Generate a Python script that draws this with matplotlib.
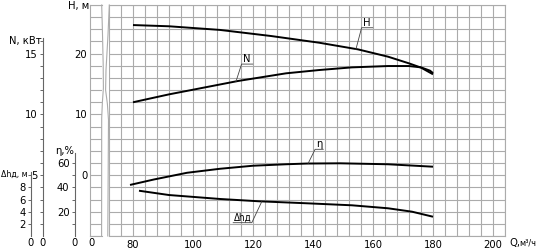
import matplotlib.pyplot as plt
from matplotlib.lines import Line2D
from matplotlib import font_manager

# Data
q_h = [80, 92, 109, 126, 142, 155, 165, 172, 176, 180]
head = [24.7, 24.5, 23.9, 22.9, 21.8, 20.7, 19.5, 18.4, 17.7, 16.6]

q_n = [80, 92, 115, 131, 142, 153, 165, 172, 176, 179, 180]
power = [11.0, 11.65, 12.75, 13.38, 13.65, 13.87, 13.98, 13.98, 13.87, 13.6, 13.4]

q_eta = [79, 87, 98, 109, 120, 131, 138, 149, 165, 180]
eta = [42.0, 46.5, 52.0, 55.3, 57.8, 59.0, 59.6, 59.8, 59.0, 57.0]

q_dh = [82, 92, 109, 122, 138, 153, 165, 173, 180]
dh = [7.45, 6.74, 6.09, 5.71, 5.38, 5.05, 4.56, 4.0, 3.17]

q_ticks = [80, 100, 120, 140, 160, 180, 200]

# pick a narrow font if one is installed
family = 'DejaVu Sans'
stretch = 'normal'
for name, strc in [('Liberation Sans Narrow', 'normal'), ('DejaVu Sans', 'condensed')]:
    try:
        path = font_manager.findfont(font_manager.FontProperties(family=name, stretch=strc),
                                     fallback_to_default=False)
        if 'Narrow' in path or 'Condensed' in path:
            family, stretch = name, strc
            break
    except Exception:
        pass

plt.rcParams['font.family'] = [family, 'DejaVu Sans']
plt.rcParams['font.stretch'] = stretch
plt.rcParams['font.size'] = 8

W, H = 538, 250
GRID = '#ababab'
fig = plt.figure(figsize=(W / 100, H / 100), dpi=100)


def rect(x0, x1, y_top=5, y_bot=236):
    return [x0 / W, 1 - y_bot / H, (x1 - x0) / W, (y_bot - y_top) / H]


def fy(y):
    return 1 - y / H


# main grid (19 rows of cells, Q 72..204)
ax = fig.add_axes(rect(109, 505))
ax.set_xlim(72, 204)
ax.set_ylim(0, 19)
ax.set_xticks(q_ticks)
ax.set_xticks(range(72, 205, 4), minor=True)
ax.set_yticks(range(0, 20))
ax.set_yticklabels([])
ax.tick_params(which='both', length=0, pad=3)
ax.grid(True, which='both', color=GRID, lw=0.8)
for s in ['top', 'right', 'bottom']:
    ax.spines[s].set_color(GRID)
    ax.spines[s].set_linewidth(0.8)
ax.spines['left'].set_visible(False)

# twin scales for each curve
def twin(lo, hi):
    t = ax.twinx()
    t.set_ylim(lo, hi)
    t.axis('off')
    return t

axH = twin(-10, 28)
axN = twin(0, 19)
axE = twin(0, 190)
axD = twin(0, 38)

kw = dict(color='black', lw=1.4, solid_capstyle='butt')
axH.plot(q_h, head, **kw)
axN.plot(q_n, power, **kw)
axE.plot(q_eta, eta, **kw)
axD.plot(q_dh, dh, **kw)

lk = dict(color='#444444', lw=0.6)

def tag(a, text, pt, corner, end, text_x):
    a.plot([pt[0], corner[0], end], [pt[1], corner[1], corner[1]], **lk)
    a.text(text_x, corner[1], text, ha='center', va='bottom')

tag(axH, 'H', (154.3, 20.7), (156.2, 24.26), 159.9, 158.0)
tag(axN, 'N', (114.3, 12.69), (116.2, 14.14), 119.9, 118.0)
tag(axE, 'η', (138.4, 59.8), (140.7, 71.3), 143.4, 142.0)
axD.plot([122.9, 119.6, 113.4], [5.64, 2.19, 2.19], **lk)
axD.text(116.5, 2.19, 'Δhд', ha='center', va='bottom', fontsize=7)

fig.text(509 / W, fy(243), 'Q,', ha='left', va='center')
fig.text(519 / W, fy(242.5), 'м³/ч', ha='left', va='center', fontsize=6.5)

# narrow strip at Q = 0..4 with the H scale
st = fig.add_axes(rect(90, 101.7))
st.set_xlim(0, 4)
st.set_ylim(-10, 28)
st.set_xticks([])
ht = list(range(-10, 29, 2))
st.set_yticks(ht)
st.set_yticklabels([str(v) if v in (0, 10, 20) else '' for v in ht])
st.tick_params(length=0, pad=2)
st.grid(True, axis='y', color=GRID, lw=0.8)
for s in ['top', 'left', 'bottom']:
    st.spines[s].set_color(GRID)
    st.spines[s].set_linewidth(0.8)
st.spines['right'].set_visible(False)
fig.text(89 / W, fy(6), 'H, м', ha='right', va='center')
fig.text(91.5 / W, fy(243), '0', ha='center', va='center')

# wavy break lines
left_w = [(101.7, 5), (102.4, 30), (103.2, 65), (103.4, 88), (102.4, 102), (101.7, 118), (101.6, 236)]
right_w = [(109.3, 5), (108.0, 35), (106.0, 70), (105.6, 90), (107.4, 104), (108.5, 120), (107.8, 236)]
for pts in (left_w, right_w):
    fig.add_artist(Line2D([p[0] / W for p in pts], [fy(p[1]) for p in pts],
                          color=GRID, lw=0.8))


# side scales
def side_axis(x, lo, hi, top_val, ticks, labels):
    a = fig.add_axes(rect(x, x + 0.5))
    a.set_ylim(lo, hi)
    a.set_xticks([])
    for s in ['top', 'right', 'bottom']:
        a.spines[s].set_visible(False)
    a.patch.set_visible(False)
    a.spines['left'].set_bounds(lo, top_val)
    a.spines['left'].set_color('#666666')
    a.spines['left'].set_linewidth(0.8)
    a.set_yticks(ticks)
    a.set_yticklabels(labels)
    a.tick_params(axis='y', length=2.5, width=0.7, color='#666666', pad=1.5)
    return a

n_ticks = list(range(1, 17))
side_axis(43, 0, 19, 16.3, n_ticks, [str(v) if v in (5, 10, 15) else '' for v in n_ticks])
fig.text(42 / W, fy(41), 'N, кВт', ha='right', va='center')
fig.text(43 / W, fy(243), '0', ha='center', va='center')

e_ticks = list(range(10, 70, 10))
side_axis(75, 0, 190, 68, e_ticks, [str(v) if v in (20, 40, 60) else '' for v in e_ticks])
fig.text(74 / W, fy(151), 'η,%', ha='right', va='center')
fig.text(75 / W, fy(243), '0', ha='center', va='center')

d_ticks = [2, 4, 6, 8, 10]
side_axis(31, 0, 38, 10.5, d_ticks, ['2', '4', '6', '8', ''])
fig.text(28 / W, fy(174), 'Δhд, м', ha='right', va='center', fontsize=6.3)
fig.text(31 / W, fy(243), '0', ha='center', va='center')

fig.savefig('out.png', dpi=100)
